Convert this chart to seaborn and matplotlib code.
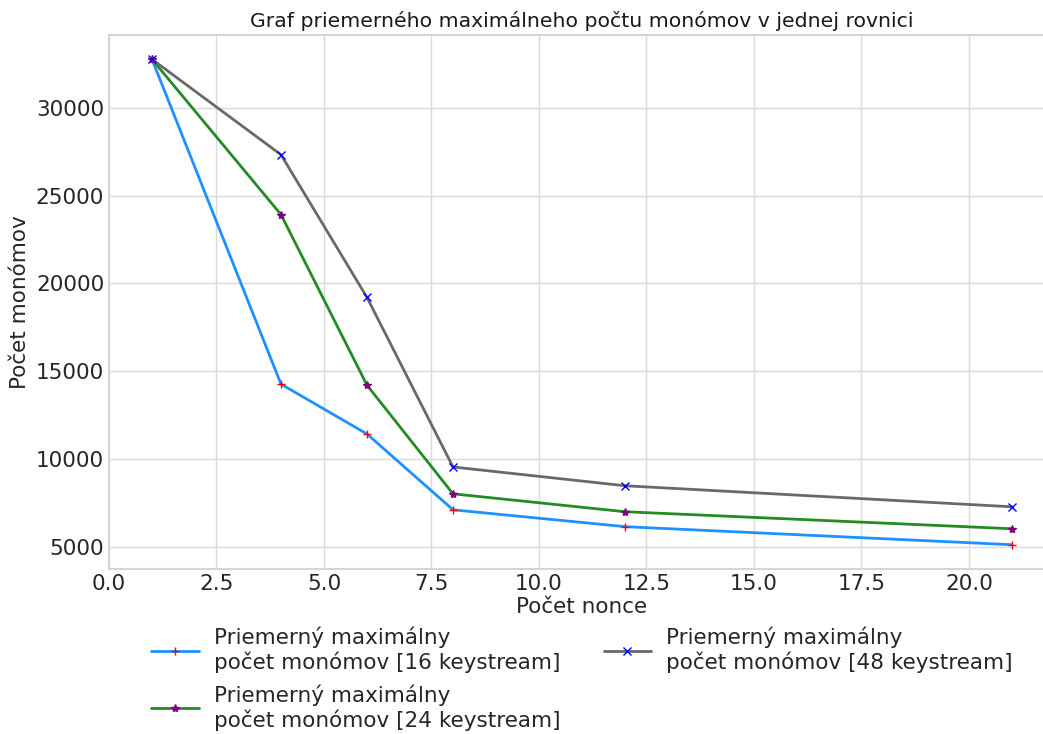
import matplotlib
matplotlib.use("Agg")
import matplotlib.pyplot as plt
import seaborn as sns
import pandas as pd

nonce = [1, 4, 6, 8, 12, 21]
mono_16 = [32768, 14260, 11420, 7100, 6140, 5110]
mono_24 = [32768, 23920, 14200, 8010, 6990, 6020]
mono_48 = [32768, 27330, 19200, 9540, 8470, 7270]

labels = [
    "Priemerný maximálny\npočet monómov [16 keystream]",
    "Priemerný maximálny\npočet monómov [24 keystream]",
    "Priemerný maximálny\npočet monómov [48 keystream]",
]

sns.set_theme(style="whitegrid")
plt.rcParams["font.family"] = ["DejaVu Sans"]
plt.rcParams["axes.edgecolor"] = "#d5d5d5"
plt.rcParams["grid.color"] = "#dadada"

fig = plt.figure(figsize=(10.43, 7.34), dpi=100)
ax = fig.add_axes([0.1045, 0.2248, 0.907, 0.7275])

styles = [
    (mono_16, "dodgerblue", "+", "red"),
    (mono_24, "forestgreen", "*", "purple"),
    (mono_48, "dimgray", "x", "blue"),
]
for (vals, lc, mk, mc), lab in zip(styles, labels):
    df = pd.DataFrame({"x": nonce, "y": vals})
    sns.lineplot(data=df, x="x", y="y", ax=ax, color=lc, linewidth=2,
                 marker=mk, markersize=6, markeredgecolor=mc,
                 markerfacecolor=mc, markeredgewidth=1.0, label=lab)

ax.set_xlim(0, 22)
ax.set_title("Graf priemerného maximálneho počtu monómov v jednej rovnici",
             fontsize=14.7, color="#1a1a1a")
ax.set_xlabel("Počet nonce", fontsize=15.5, color="#262626", labelpad=2)
ax.set_ylabel("Počet monómov", fontsize=15.5, color="#262626")
ax.tick_params(labelsize=15.5, colors="#262626", length=0)
for s in ax.spines.values():
    s.set_color("#d5d5d5")
    s.set_linewidth(1.5)

ax.legend(loc="upper center", bbox_to_anchor=(0.5, -0.072), ncol=2,
          frameon=False, fontsize=15.5, handlelength=2.2, columnspacing=2.0,
          labelspacing=0.5, handletextpad=0.7)

fig.savefig("out.png", dpi=100)
